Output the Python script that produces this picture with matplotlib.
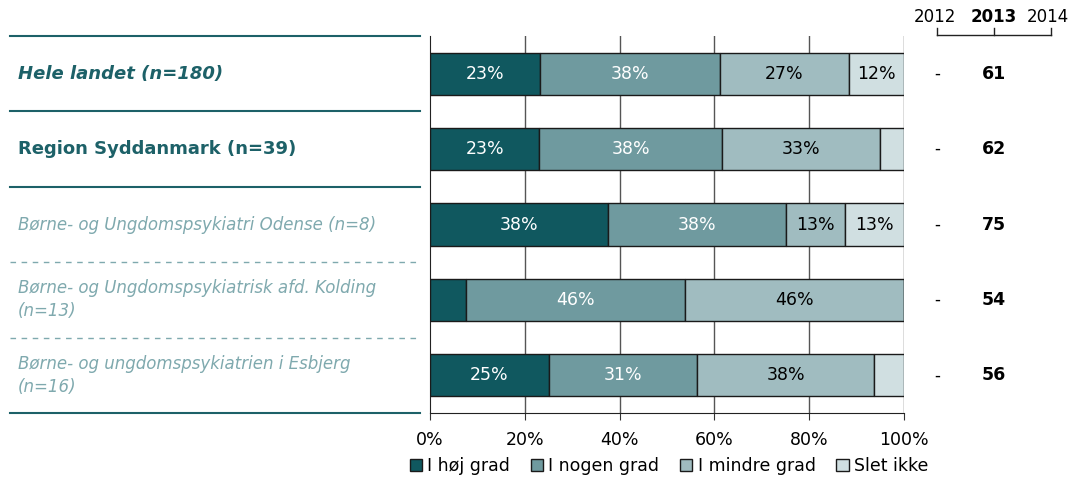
import matplotlib
matplotlib.use('Agg')
from matplotlib import pyplot as plt
from matplotlib.lines import Line2D
from matplotlib.patches import Patch
import matplotlib.transforms as mtransforms

# Data
ROW_LABELS = ['Hele landet (n=180)', 'Region Syddanmark (n=39)',
              'Børne- og Ungdomspsykiatri Odense (n=8)',
              'Børne- og Ungdomspsykiatrisk afd. Kolding\n(n=13)',
              'Børne- og ungdomspsykiatrien i Esbjerg\n(n=16)']
CATEGORIES = ['I høj grad', 'I nogen grad', 'I mindre grad', 'Slet ikke']
HOJ = [23.3, 23.1, 37.5, 7.7, 25.0]
NOGEN = [37.8, 38.4, 37.5, 46.2, 31.25]
MINDRE = [27.2, 33.4, 12.5, 46.1, 37.5]
SLET = [11.7, 5.1, 12.5, 0.0, 6.25]
SCORES_2012 = ['-', '-', '-', '-', '-']
SCORES_2013 = ['61', '62', '75', '54', '56']
YEARS = ['2012', '2013', '2014']

COLORS = ['#10585f', '#6f9a9f', '#a0bcc0', '#d0dfe1']
TEXT_COLORS = ['white', 'white', 'black', 'black']
TEAL = '#1d6168'
LIGHT_TEAL = '#7fa9ae'
FS = 12.5

fig = plt.figure(figsize = (10.72, 4.79), dpi = 100)
ax = fig.add_axes([430 / 1072, 1 - 413 / 479, 474 / 1072, 377 / 479])

series = [HOJ, NOGEN, MINDRE, SLET]
rows = list(range(len(ROW_LABELS)))
left = [0.0] * len(rows)
for vals, col, tcol, name in zip(series, COLORS, TEXT_COLORS, CATEGORIES):
  ax.barh(rows, vals, left = left, height = 0.56, color = col,
          edgecolor = '#1a1a1a', linewidth = 1, label = name, zorder = 3)
  for r in rows:
    if vals[r] >= 10:
      ax.text(left[r] + vals[r] / 2, r, '%d%%' % int(vals[r] + 0.5), color = tcol,
              ha = 'center', va = 'center', fontsize = FS, zorder = 4)
  left = [l + v for l, v in zip(left, vals)]

ax.set_xlim(0, 100)
ax.set_ylim(4.5, -0.5)
ax.set_xticks(range(0, 101, 20))
ax.set_xticklabels([str(x) + '%' for x in range(0, 101, 20)], fontsize = FS)
ax.set_yticks([])
ax.tick_params(axis = 'x', direction = 'out', length = 5, pad = 8, color = '#333333')
for x in range(20, 101, 20):
  ax.axvline(x, color = '#555555', linewidth = 1, zorder = 1)
for s in ['top', 'right']:
  ax.spines[s].set_visible(False)
ax.spines['left'].set_color('#222222')
ax.spines['bottom'].set_color('#222222')

# left-hand labels and separators
trans = mtransforms.blended_transform_factory(ax.transAxes, ax.transData)
x0 = (10 - 430) / 474
x1 = (420 - 430) / 474
seps = [(-0.5, '-'), (0.5, '-'), (1.5, '-'), (2.5, '--'), (3.5, '--'), (4.5, '-')]
for y, ls in seps:
  if ls == '-':
    ax.plot([x0, x1], [y, y], color = TEAL, linewidth = 1.5, transform = trans, clip_on = False)
  else:
    ax.plot([x0, x1], [y, y], color = LIGHT_TEAL, linewidth = 1, linestyle = (0, (4, 4)),
            transform = trans, clip_on = False)

tx = (18 - 430) / 474
ax.text(tx, 0, ROW_LABELS[0], transform = trans, color = TEAL, fontsize = 13,
        fontweight = 'bold', fontstyle = 'italic', va = 'center', ha = 'left')
ax.text(tx, 1, ROW_LABELS[1], transform = trans, color = TEAL, fontsize = 13,
        fontweight = 'bold', va = 'center', ha = 'left')
for r in rows[2:]:
  ax.text(tx, r, ROW_LABELS[r], transform = trans, color = LIGHT_TEAL, fontsize = 12,
          fontstyle = 'italic', va = 'center', ha = 'left', linespacing = 1.35)

# right-hand score columns
for r in rows:
  ax.text((937 - 430) / 474, r, SCORES_2012[r], transform = trans, fontsize = 12,
          ha = 'center', va = 'center')
  ax.text((994 - 430) / 474, r, SCORES_2013[r], transform = trans, fontsize = 12.5,
          fontweight = 'bold', ha = 'center', va = 'center')

# year header with bracket
hy = 1 - 17 / 479
for xp, yr, w in zip([935, 994, 1048], YEARS, ['normal', 'bold', 'normal']):
  fig.text(xp / 1072, hy, yr, fontsize = 12, fontweight = w, ha = 'center', va = 'center')
by0, by1 = 1 - 28 / 479, 1 - 35 / 479
fig.add_artist(Line2D([937 / 1072, 1051 / 1072], [by1, by1], color = '#222222', linewidth = 1))
for xp in [937, 994, 1051]:
  fig.add_artist(Line2D([xp / 1072, xp / 1072], [by0, by1], color = '#222222', linewidth = 1))

handles = [Patch(facecolor = c, edgecolor = '#1a1a1a', linewidth = 1) for c in COLORS]
fig.legend(handles, CATEGORIES, loc = 'center', bbox_to_anchor = (669 / 1072, 1 - 466 / 479),
           ncol = 4, frameon = False, fontsize = FS, handlelength = 0.7, handleheight = 0.7,
           handletextpad = 0.3, columnspacing = 1.2)

fig.savefig('out.png', dpi = 100)
